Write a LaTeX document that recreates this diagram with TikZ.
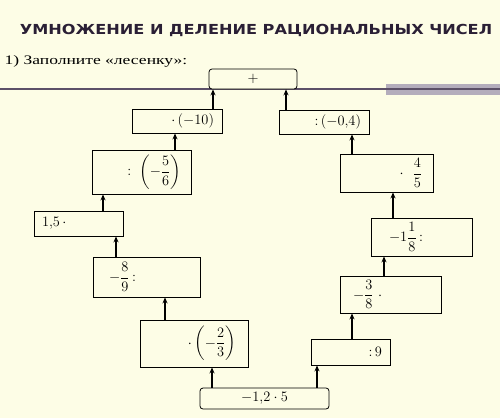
\documentclass[tikz,border=0pt]{standalone}
\usepackage{fontspec}
\setmainfont{Liberation Serif}
\newfontfamily\titlefont{DejaVu Sans}
\usetikzlibrary{positioning, arrows.meta}
\usepackage{amsmath}
\definecolor{paper}{HTML}{FDFDE6}
\definecolor{titleink}{HTML}{2A1F35}
\definecolor{ruleink}{HTML}{5C5068}
\definecolor{rulebar}{HTML}{B4ADBC}

\begin{document}
\begin{tikzpicture}
    [
        x=1pt, y=-1pt,
        lbox/.style={draw=black, line width=0.8pt, align=left, inner ysep=2pt, font=\fontsize{13.5}{15}\selectfont},
        rbox/.style={draw=black, line width=0.8pt, align=right, inner ysep=2pt, font=\fontsize{13.5}{15}\selectfont},
        cbox/.style={draw=black, line width=0.8pt, rounded corners=3pt, align=center, inner ysep=2pt, font=\fontsize{13.5}{15}\selectfont},
        arr/.style={-{Stealth[length=6pt, width=5pt]}, line width=1.1pt},
    ]
        \fill[paper] (0,0) rectangle (500,418) ;
        \useasboundingbox (0,0) rectangle (500,418) ;
        % heading
        \node[text=titleink, font=\titlefont\bfseries\fontsize{13.8}{15}\selectfont] (title) at (256,30) {\scalebox{1.17}[1]{УМНОЖЕНИЕ И ДЕЛЕНИЕ РАЦИОНАЛЬНЫХ ЧИСЕЛ}} ;
        \node[anchor=west, font=\fontsize{13}{15}\selectfont] (task) at (1,61) {\scalebox{1.35}[1]{1) Заполните «лесенку»:}} ;
        \fill[rulebar] (386,84) rectangle (500,95) ;
        \draw[ruleink, line width=2pt] (0,89) -- (500,89) ;
        % top and bottom
        \node[cbox, fill=paper, minimum width=88pt, minimum height=20pt] (top) at (253,79) {$+$} ;
        \node[cbox, minimum width=129pt, minimum height=21pt] (bot) at (264.5,398.5) {$-1{,}2\cdot 5$} ;
        % left steps
        \node[rbox, minimum width=108pt, minimum height=47pt, text width=84pt, inner xsep=12pt] (m23) at (194,343.5) {$\cdot\left(-\dfrac{2}{3}\right)$} ;
        \node[lbox, minimum width=107pt, minimum height=40pt, text width=75pt, inner xsep=16pt] (d89) at (146.5,277) {$-\dfrac{8}{9}\,{:}$} ;
        \node[lbox, minimum width=89pt, minimum height=25pt, text width=73pt, inner xsep=8pt] (p15) at (78.5,223.5) {$1{,}5\,\cdot$} ;
        \node[rbox, minimum width=99pt, minimum height=44pt, text width=79pt, inner xsep=10pt] (d56) at (141.5,172) {$:\left(-\dfrac{5}{6}\right)$} ;
        \node[rbox, minimum width=90pt, minimum height=24pt, text width=74pt, inner xsep=8pt] (m10) at (177,121) {$\cdot\,(-10)$} ;
        % right steps
        \node[rbox, minimum width=79pt, minimum height=26pt, text width=63pt, inner xsep=8pt] (d9) at (350.5,352) {${:}\,9$} ;
        \node[lbox, minimum width=101pt, minimum height=37pt, text width=75pt, inner xsep=13pt] (m38) at (390.5,294.5) {$-\dfrac{3}{8}\ \cdot$} ;
        \node[lbox, minimum width=101pt, minimum height=38pt, text width=65pt, inner xsep=18pt] (d118) at (421.5,237) {$-1\dfrac{1}{8}\,{:}$} ;
        \node[rbox, minimum width=93pt, minimum height=38pt, text width=71pt, inner xsep=11pt] (m45) at (386.5,173) {$\cdot\ \ \dfrac{4}{5}$} ;
        \node[rbox, minimum width=90pt, minimum height=24pt, text width=74pt, inner xsep=8pt] (d04) at (324,122) {${:}\,(-0{,}4)$} ;
        % arrows
        \draw[arr] (bot.north -| 212,0) -- (m23.south -| 212,0) ;
        \draw[arr] (m23.north -| 165,0) -- (d89.south -| 165,0) ;
        \draw[arr] (d89.north -| 116,0) -- (p15.south -| 116,0) ;
        \draw[arr] (p15.north -| 103,0) -- (d56.south -| 103,0) ;
        \draw[arr] (d56.north -| 175,0) -- (m10.south -| 175,0) ;
        \draw[arr] (m10.north -| 213,0) -- (top.south -| 213,0) ;
        \draw[arr] (bot.north -| 317,0) -- (d9.south -| 317,0) ;
        \draw[arr] (d9.north -| 352,0) -- (m38.south -| 352,0) ;
        \draw[arr] (m38.north -| 384,0) -- (d118.south -| 384,0) ;
        \draw[arr] (d118.north -| 393,0) -- (m45.south -| 393,0) ;
        \draw[arr] (m45.north -| 352,0) -- (d04.south -| 352,0) ;
        \draw[arr] (d04.north -| 286,0) -- (top.south -| 286,0) ;
    \end{tikzpicture}
\end{document}
